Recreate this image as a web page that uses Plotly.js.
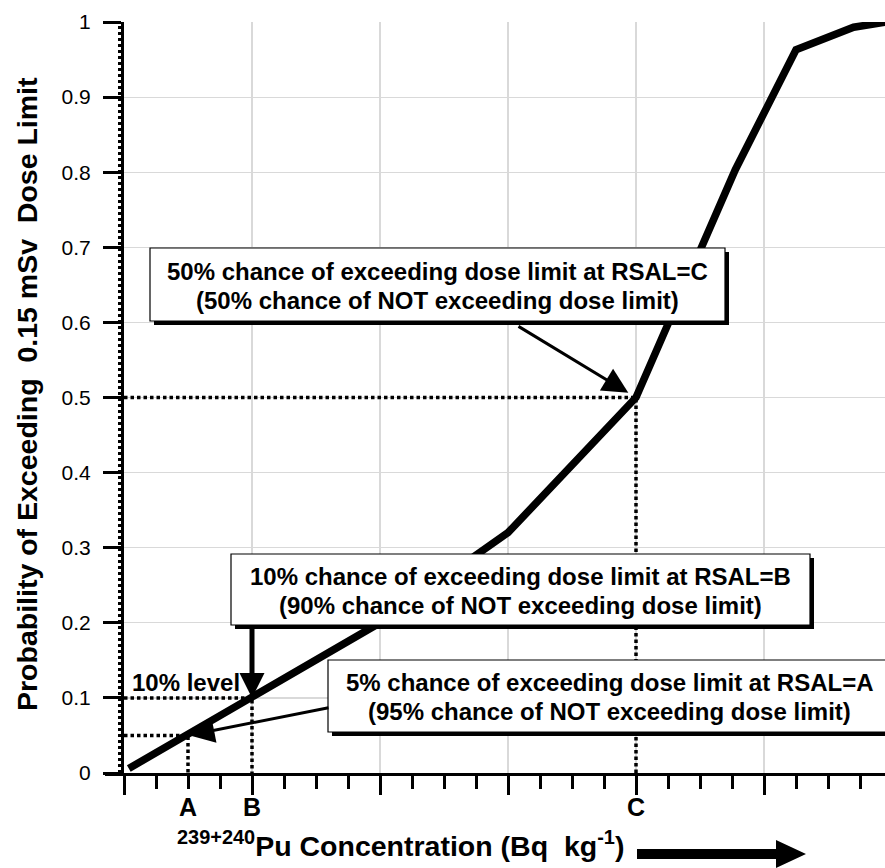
<!DOCTYPE html>
<html>
<head>
<meta charset="utf-8">
<script src="https://cdn.plot.ly/plotly-3.0.1.min.js"></script>
<style>html,body{margin:0;padding:0;background:#fff;}#chart{width:885px;height:868px;}</style>
</head>
<body>
<div id="chart"></div>
<script>
// ---- data ----
const curveX = [0.15, 4, 8, 12, 16, 19.1, 21.0, 22.8, 23.8];
const curveY = [0.006, 0.1, 0.2, 0.32, 0.5, 0.803, 0.963, 0.993, 1.0];
const letterX = [2, 4, 16];
const letterLabels = ['A', 'B', 'C'];
const levelP = [0.05, 0.1, 0.5];
const yTickVals = [0, 0.1, 0.2, 0.3, 0.4, 0.5, 0.6, 0.7, 0.8, 0.9, 1];
const yTickText = ['0', '0.1', '0.2', '0.3', '0.4', '0.5', '0.6', '0.7', '0.8', '0.9', '1'];
const boxLines = [
  ['50% chance of exceeding dose limit at RSAL=C', '(50% chance of NOT exceeding dose limit)'],
  ['10% chance of exceeding dose limit at RSAL=B', '(90% chance of NOT exceeding dose limit)'],
  ['5% chance of exceeding dose limit at RSAL=A', '(95% chance of NOT exceeding dose limit)']
];
const levelLabel = '10% level';
const yTitle = 'Probability of Exceeding  0.15 mSv  Dose Limit';
const xTitle = '<sup>239+240</sup>Pu Concentration (Bq  kg<sup>-1</sup>)';

// ---- geometry helpers (pixel -> paper) ----
const W = 885, H = 868;
const L = 124, R = 885, T = 22, B = 773;
const PW = R - L, PH = B - T;
const fx = px => (px - L) / PW;
const fy = py => (B - py) / PH;
const xMax = PW / 32;

const bold = 'Liberation Sans, Arial, Helvetica, sans-serif';

// ---- traces ----
const traces = [];
letterX.forEach((x, i) => {
  traces.push({
    type: 'scatter', mode: 'lines', xaxis: 'x', yaxis: 'y',
    x: [0, x, x], y: [levelP[i], levelP[i], 0],
    line: {color: '#000', width: 3.5, dash: '3.5px,3px'},
    hoverinfo: 'skip', showlegend: false, cliponaxis: false
  });
});
traces.push({
  type: 'scatter', mode: 'lines', xaxis: 'x2', yaxis: 'y',
  x: curveX, y: curveY,
  line: {color: '#000', width: 7.5},
  hoverinfo: 'skip', showlegend: false
});

// ---- boxes ----
const boxes = [
  {l: 150, r: 725, t: 248, b: 321, lines: [271, 300]},
  {l: 231, r: 810, t: 554, b: 625, lines: [576, 605]},
  {l: 328, r: 890, t: 660, b: 732, lines: [682, 711]}
];
const shapes = [];
const annotations = [];
boxes.forEach((bx, i) => {
  shapes.push({type: 'rect', xref: 'paper', yref: 'paper',
    x0: fx(bx.l + 4), x1: fx(bx.r + 4), y0: fy(bx.t + 4), y1: fy(bx.b + 4),
    fillcolor: '#000', line: {width: 0}, layer: 'above'});
  shapes.push({type: 'rect', xref: 'paper', yref: 'paper',
    x0: fx(bx.l), x1: fx(bx.r), y0: fy(bx.t), y1: fy(bx.b),
    fillcolor: '#fff', line: {color: '#000', width: 1.2}, layer: 'above'});
  boxLines[i].forEach((txt, j) => {
    annotations.push({xref: 'paper', yref: 'paper', x: fx((bx.l + bx.r) / 2), y: fy(bx.lines[j]),
      xanchor: 'center', yanchor: 'middle', showarrow: false, text: txt,
      font: {family: bold, size: 24, color: '#000', weight: 'bold'}});
  });
});

// y-axis dotted companion line and x-axis extension
shapes.push({type: 'line', xref: 'paper', yref: 'paper', x0: fx(119.5), x1: fx(119.5), y0: 0, y1: 1,
  line: {color: '#000', width: 3, dash: '3px,3px'}, layer: 'above'});
shapes.push({type: 'line', xref: 'paper', yref: 'paper', x0: fx(105), x1: fx(126), y0: fy(774.5), y1: fy(774.5),
  line: {color: '#000', width: 3}, layer: 'above'});

// big arrow after x title
const arrowPts = [[637, 849], [776, 849], [776, 840], [806, 854], [776, 868], [776, 859], [637, 859]];
shapes.push({type: 'path', xref: 'paper', yref: 'paper',
  path: 'M' + arrowPts.map(p => fx(p[0]).toFixed(5) + ',' + fy(p[1]).toFixed(5)).join(' L') + ' Z',
  fillcolor: '#000', line: {width: 0}, layer: 'above'});

// arrows pointing to curve
annotations.push({xref: 'x', yref: 'y', x: letterX[2], y: levelP[2], text: '', showarrow: true,
  axref: 'pixel', ayref: 'pixel', ax: -119, ay: -72, arrowhead: 2, arrowsize: 1.7, arrowwidth: 3,
  arrowcolor: '#000', standoff: 9});
annotations.push({xref: 'x', yref: 'y', x: letterX[1], y: levelP[1], text: '', showarrow: true,
  axref: 'pixel', ayref: 'pixel', ax: 0, ay: -72, arrowhead: 2, arrowsize: 1.0, arrowwidth: 5,
  arrowcolor: '#000', standoff: 0});
annotations.push({xref: 'x', yref: 'y', x: letterX[0], y: levelP[0], text: '', showarrow: true,
  axref: 'pixel', ayref: 'pixel', ax: 142, ay: -28, arrowhead: 2, arrowsize: 1.7, arrowwidth: 3,
  arrowcolor: '#000', standoff: 1});

// 10% level label
annotations.push({xref: 'paper', yref: 'paper', x: fx(130), y: fy(682), xanchor: 'left', yanchor: 'middle',
  showarrow: false, text: levelLabel, font: {family: bold, size: 24, color: '#000', weight: 'bold'}});

// axis titles
annotations.push({xref: 'paper', yref: 'paper', x: fx(27), y: fy(394), xanchor: 'center', yanchor: 'middle',
  textangle: -90, showarrow: false, text: yTitle,
  font: {family: bold, size: 28.5, color: '#000', weight: 'bold'}});
annotations.push({xref: 'paper', yref: 'paper', x: fx(175), y: fy(844), xanchor: 'left', yanchor: 'middle',
  showarrow: false, text: xTitle,
  font: {family: bold, size: 28.5, color: '#000', weight: 'bold'}});

const axisCommon = {range: [0, xMax], zeroline: false, fixedrange: true};
const layout = {
  width: W, height: H,
  margin: {l: L, r: W - R, t: T, b: H - B, pad: 0},
  paper_bgcolor: '#fff', plot_bgcolor: '#fff',
  showlegend: false,
  xaxis: Object.assign({}, axisCommon, {
    tickmode: 'linear', tick0: 0, dtick: 4,
    ticks: 'outside', ticklen: 19, tickwidth: 3, tickcolor: '#000',
    showticklabels: false,
    showgrid: true, gridcolor: '#d9d9d9', gridwidth: 1.2,
    showline: true, linecolor: '#000', linewidth: 3,
    minor: {tickmode: 'linear', tick0: 0, dtick: 1, ticks: 'outside', ticklen: 13, tickwidth: 3, tickcolor: '#000', showgrid: false}
  }),
  xaxis2: Object.assign({}, axisCommon, {
    overlaying: 'x', anchor: 'y', side: 'bottom',
    tickmode: 'array', tickvals: letterX, ticktext: letterLabels,
    ticks: '', showgrid: false, showline: false,
    ticklabelstandoff: 17,
    tickfont: {family: bold, size: 25, color: '#000', weight: 'bold'}
  }),
  yaxis: {
    range: [0, 1], zeroline: false, fixedrange: true,
    tickmode: 'array', tickvals: yTickVals, ticktext: yTickText,
    ticks: 'outside', ticklen: 18, tickwidth: 3, tickcolor: '#000',
    ticklabelstandoff: 8,
    tickfont: {family: 'Liberation Sans, Arial, sans-serif', size: 21, color: '#000'},
    showgrid: true, gridcolor: '#d9d9d9', gridwidth: 1.2,
    showline: true, linecolor: '#000', linewidth: 3
  },
  shapes: shapes,
  annotations: annotations
};

Plotly.newPlot('chart', traces, layout, {displayModeBar: false, staticPlot: true});
</script>
</body>
</html>
